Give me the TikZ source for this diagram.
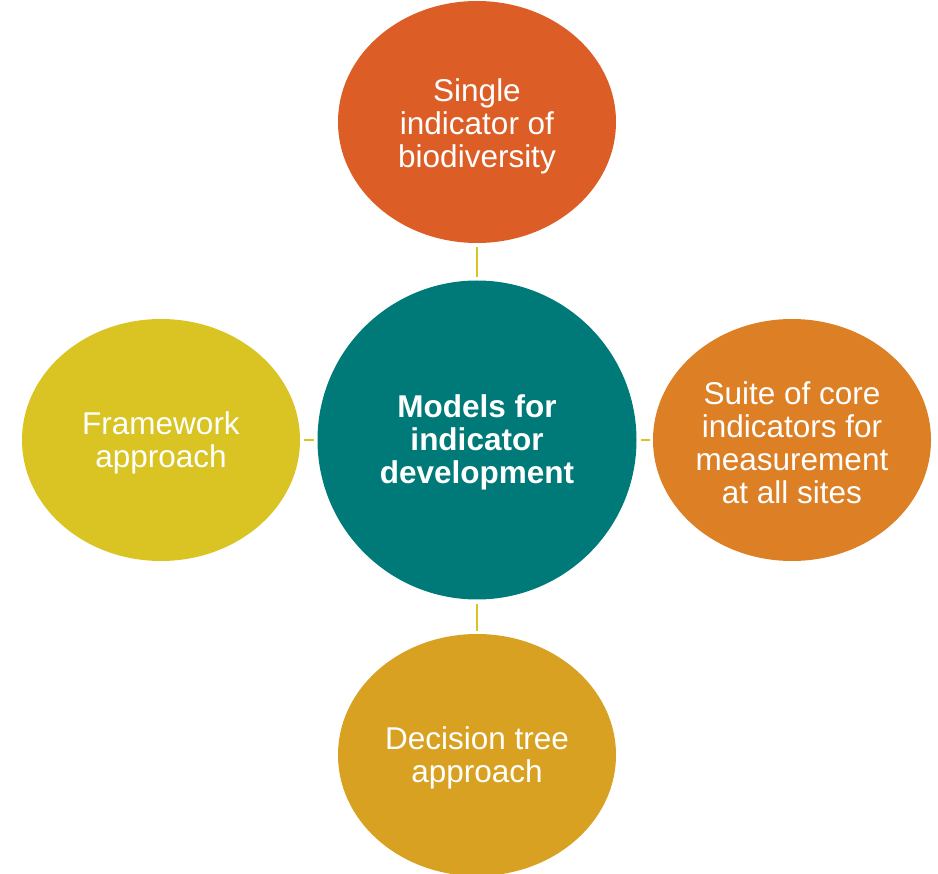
\documentclass[tikz,border=0pt]{standalone}
\usepackage{fontspec}
\setmainfont{Liberation Sans}
\usetikzlibrary{shapes.geometric}
\definecolor{ctop}{HTML}{DC5E26}
\definecolor{ccen}{HTML}{007A78}
\definecolor{cleft}{HTML}{D9C423}
\definecolor{cright}{HTML}{DC7F25}
\definecolor{cbot}{HTML}{D8A121}
\definecolor{cline}{HTML}{D9C423}
\tikzset{
  blob/.style={ellipse, inner sep=0pt, minimum width=278pt, minimum height=242pt},
  lbl/.style={inner sep=0pt, text=white, align=center, font=\fontsize{31.5}{33}\selectfont},
  link/.style={draw=cline, line width=2.8pt, shorten >=3pt, shorten <=4pt}
}
\begin{document}
\begin{tikzpicture}[x=1pt,y=-1pt]
\useasboundingbox (0,0) rectangle (938,874);
\node[blob, fill=ctop] (top) at (477,122) {};
\node[blob, fill=cleft] (left) at (161,440) {};
\node[blob, fill=cright] (right) at (792,440) {};
\node[blob, fill=cbot] (bot) at (477,755) {};
\node[circle, fill=ccen, inner sep=0pt, minimum size=319pt] (cen) at (477,440) {};
\node[lbl] (toplbl) at (477,126) {Single\\indicator of\\biodiversity};
\node[lbl] (leftlbl) at (161,443) {Framework\\approach};
\node[lbl] (rightlbl) at (792,443) {Suite of core\\indicators for\\measurement\\at all sites};
\node[lbl] (botlbl) at (477,758) {Decision tree\\approach};
\node[lbl, font=\fontsize{31.5}{33}\selectfont\bfseries] (cenlbl) at (477,442) {Models for\\indicator\\development};
\draw[link] (top) -- (cen);
\draw[link] (left) -- (cen);
\draw[link] (cen) -- (right);
\draw[link] (cen) -- (bot);
\end{tikzpicture}
\end{document}
